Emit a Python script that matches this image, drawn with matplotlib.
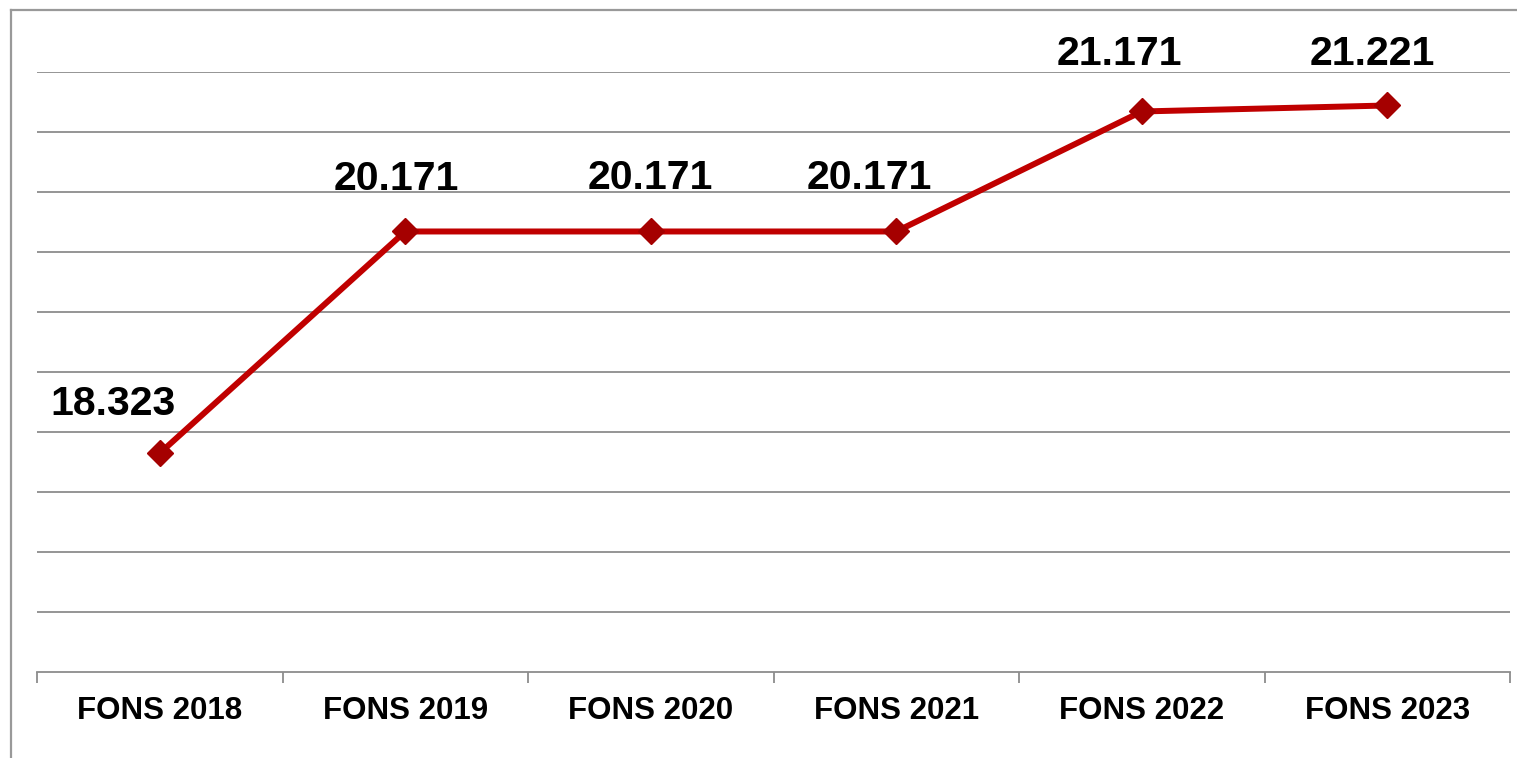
import numpy as np
import matplotlib.pyplot as plt
from matplotlib.lines import Line2D

categories = ['FONS 2018', 'FONS 2019', 'FONS 2020', 'FONS 2021', 'FONS 2022', 'FONS 2023']
values = [18.323, 20.171, 20.171, 20.171, 21.171, 21.221]
value_labels = ['18.323', '20.171', '20.171', '20.171', '21.171', '21.221']

# label offsets (pixels) for each data label, as placed in the original
label_dx = [-47, -9, 0, -27, -22, -15]
label_dy = [38, 41, 42, 42, 46, 40]

plt.rcParams['font.family'] = ['Liberation Sans', 'DejaVu Sans']

W, H = 1517, 758
fig = plt.figure(figsize=(W / 100, H / 100), dpi=100)
ax = fig.add_axes([37 / W, (H - 672) / H, (1510 - 37) / W, 600 / H])

x = np.arange(len(categories))
ax.plot(x, values, color='#C00000', lw=4.3, zorder=3,
        marker='D', markersize=13, markerfacecolor='#A50000',
        markeredgecolor='#A50000', clip_on=False)

for xi, v, lab, dx, dy in zip(x, values, value_labels, label_dx, label_dy):
    ax.annotate(lab, xy=(xi, v), xytext=(dx, dy), textcoords='offset pixels',
                ha='center', va='baseline', fontsize=29.5, fontweight='bold',
                color='black', annotation_clip=False)

ax.set_xlim(-0.5, len(categories) - 0.5)
ax.set_ylim(16.5, 21.5)

grid_color = '#8C8C8C'
ax.set_yticks(np.arange(17.0, 21.51, 0.5))
ax.yaxis.grid(True, color=grid_color, lw=1.3)
ax.tick_params(axis='y', length=0, labelleft=False)
ax.set_axisbelow(True)

ax.set_xticks(x)
ax.set_xticklabels(categories, fontsize=22.5, fontweight='bold')
ax.set_xticks(np.arange(-0.5, len(categories), 1.0), minor=True)
ax.tick_params(axis='x', which='major', length=0, pad=17)
ax.tick_params(axis='x', which='minor', length=8, width=1.3, color=grid_color, direction='out')

for side in ['left', 'right', 'top']:
    ax.spines[side].set_visible(False)
ax.spines['bottom'].set_color(grid_color)
ax.spines['bottom'].set_linewidth(1.3)

# outer chart frame (only top and left edges visible in the crop)
frame_color = '#999999'
fig.add_artist(Line2D([11 / W, 11 / W], [0, (H - 10) / H], transform=fig.transFigure,
                      color=frame_color, lw=1.6))
fig.add_artist(Line2D([11 / W, 1], [(H - 10) / H, (H - 10) / H], transform=fig.transFigure,
                      color=frame_color, lw=1.6))

fig.savefig('out.png', dpi=100, facecolor='white')
